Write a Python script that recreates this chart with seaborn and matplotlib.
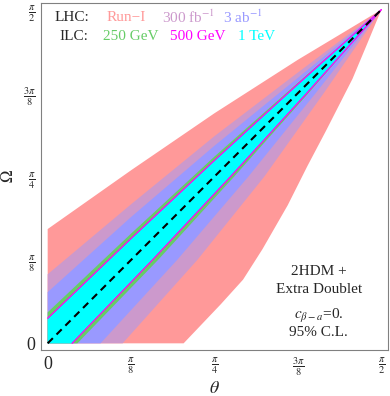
import numpy as np
import pandas as pd
import matplotlib
matplotlib.use('Agg')
import matplotlib.pyplot as plt
import seaborn as sns

# === DATA (radians) ===
HALF_PI = np.pi / 2

# upper edges of each band: Omega at these theta values
theta_grid = [0.0, 0.393, 0.785, 1.178, HALF_PI]
run1_upper = [0.538, 0.815, 1.083, 1.335, HALF_PI]
lhc300_upper = [0.325, 0.655, 0.975, 1.275, HALF_PI]
lhc3000_upper = [0.241, 0.595, 0.930, 1.250, HALF_PI]
ilc250_upper = [0.146, 0.517, 0.879, 1.227, HALF_PI]
ilc500_upper = [0.118, 0.494, 0.861, 1.220, HALF_PI]
ilc1000_upper = [0.113, 0.490, 0.858, 1.218, HALF_PI]

# lower edges of each band: theta at these Omega values
omega_grid = [0.0, 0.393, 0.785, 1.178, HALF_PI]
lhc300_lower = [0.353, 0.705, 1.020, 1.300, HALF_PI]
lhc3000_lower = [0.249, 0.610, 0.945, 1.262, HALF_PI]
ilc250_lower = [0.140, 0.520, 0.878, 1.228, HALF_PI]
ilc500_lower = [0.115, 0.494, 0.861, 1.220, HALF_PI]
ilc1000_lower = [0.111, 0.490, 0.858, 1.218, HALF_PI]

# Run-I lower edge is more curved, so it has its own points
run1_lower_omega = [0.0, 0.184, 0.300, 0.443, 0.650, 0.835, 1.000, 1.245, 1.400, HALF_PI]
run1_lower_theta = [0.640, 0.815, 0.920, 1.011, 1.130, 1.223, 1.310, 1.435, 1.500, HALF_PI]

tick_values = [0, np.pi / 8, np.pi / 4, 3 * np.pi / 8, HALF_PI]
tick_labels = ['0', r'$\frac{\pi}{8}$', r'$\frac{\pi}{4}$', r'$\frac{3\pi}{8}$', r'$\frac{\pi}{2}$']

COLORS = {
    'Run-I': '#FF9999',
    '300': '#CC99CC',
    '3000': '#9999FF',
    '250': '#66CC66',
    '500': '#FF00FF',
    '1000': '#00FFFF',
}

# === STYLE ===
sns.set_style('white')
plt.rcParams['font.family'] = ['Liberation Serif', 'DejaVu Serif']
plt.rcParams['mathtext.fontset'] = 'stix'


def band_polygon(up_theta, up_omega, low_theta, low_omega):
    """Polygon: left edge -> upper edge -> corner -> lower edge back to bottom."""
    xs = [0.0] + list(up_theta) + list(low_theta[::-1])
    ys = [0.0] + list(up_omega) + list(low_omega[::-1])
    return xs, ys


fig = plt.figure(figsize=(3.90, 3.96), dpi=100)
ax = fig.add_axes([41 / 390, 46 / 396, 347 / 390, 347 / 396])

bands = [
    (theta_grid, run1_upper, run1_lower_theta, run1_lower_omega, COLORS['Run-I']),
    (theta_grid, lhc300_upper, lhc300_lower, omega_grid, COLORS['300']),
    (theta_grid, lhc3000_upper, lhc3000_lower, omega_grid, COLORS['3000']),
    (theta_grid, ilc250_upper, ilc250_lower, omega_grid, COLORS['250']),
    (theta_grid, ilc1000_upper, ilc1000_lower, omega_grid, COLORS['1000']),
]
for ut, uo, lt, lo, col in bands:
    xs, ys = band_polygon(ut, uo, lt, lo)
    ax.fill(xs, ys, color=col, lw=0, zorder=1)

# 500 GeV only shows as thin magenta edges around the 1 TeV band
edges = pd.DataFrame({
    'theta': theta_grid + ilc500_lower,
    'omega': ilc500_upper + omega_grid,
    'edge': ['up'] * len(theta_grid) + ['low'] * len(omega_grid),
})
sns.lineplot(data=edges, x='theta', y='omega', units='edge', estimator=None,
             sort=False, color=COLORS['500'], lw=0.9, ax=ax, zorder=2)

diag = pd.DataFrame({'theta': [0.0, HALF_PI], 'omega': [0.0, HALF_PI]})
sns.lineplot(data=diag, x='theta', y='omega', color='black', lw=1.5,
             ax=ax, zorder=3)
ax.lines[-1].set_dashes([3.5, 2.5])

pad = 0.02 * HALF_PI
ax.set_xlim(-pad, HALF_PI + pad)
ax.set_ylim(-pad, HALF_PI + pad)
ax.set_xticks(tick_values)
ax.set_xticklabels(tick_labels)
ax.set_yticks(tick_values)
ax.set_yticklabels(tick_labels)
ax.tick_params(axis='both', direction='out', length=2, width=0.6,
               color='#808080', labelsize=10.5, pad=2)
ax.get_xticklabels()[0].set_fontsize(13)
ax.get_yticklabels()[0].set_fontsize(13)
for sp in ax.spines.values():
    sp.set_color('#808080')
    sp.set_linewidth(0.8)
ax.set_xlabel(r'$\theta$', fontsize=13, labelpad=1)
ax.set_ylabel(r'$\Omega$', fontsize=12, labelpad=4)

# legend rows written as coloured text
T = ax.transAxes
fs = 11
ax.text(0.040, 0.958, 'LHC:', transform=T, fontsize=fs, va='center')
ax.text(0.190, 0.958, 'Run\u2212I', transform=T, fontsize=fs, va='center', color=COLORS['Run-I'])
ax.text(0.349, 0.958, r'300 fb$^{-1}$', transform=T, fontsize=fs, va='center', color=COLORS['300'])
ax.text(0.524, 0.958, r'3 ab$^{-1}$', transform=T, fontsize=fs, va='center', color=COLORS['3000'])
ax.text(0.052, 0.904, 'ILC:', transform=T, fontsize=fs, va='center')
ax.text(0.179, 0.904, '250 GeV', transform=T, fontsize=fs, va='center', color=COLORS['250'])
ax.text(0.372, 0.904, '500 GeV', transform=T, fontsize=fs, va='center', color=COLORS['500'])
ax.text(0.568, 0.904, '1 TeV', transform=T, fontsize=fs, va='center', color=COLORS['1000'])

# model info, lower right
ax.text(0.800, 0.225, '2HDM +', transform=T, fontsize=fs, ha='center', va='center')
ax.text(0.800, 0.173, 'Extra Doublet', transform=T, fontsize=fs, ha='center', va='center')
ax.text(0.800, 0.097, r'$c_{\beta-a}$=0.', transform=T, fontsize=fs, ha='center', va='center')
ax.text(0.800, 0.050, '95% C.L.', transform=T, fontsize=fs, ha='center', va='center')

fig.savefig('out.png', dpi=100)
